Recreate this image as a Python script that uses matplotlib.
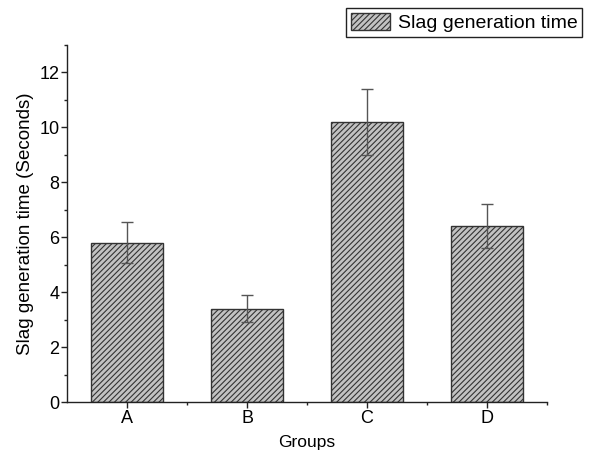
import matplotlib
matplotlib.use("Agg")
import matplotlib.pyplot as plt
from matplotlib.ticker import MultipleLocator

plt.rcParams['font.family'] = ['Liberation Sans', 'DejaVu Sans']
plt.rcParams['hatch.color'] = '#4a4a4a'
plt.rcParams['hatch.linewidth'] = 0.8

# data
groups = ['A', 'B', 'C', 'D']
times = [5.8, 3.4, 10.2, 6.4]
errors = [0.75, 0.48, 1.2, 0.8]

fig = plt.figure(figsize=(5.91, 4.54), dpi=100)
ax = fig.add_axes([0.1134, 0.1145, 0.8121, 0.7864])

x = list(range(len(groups)))
ax.bar(x, times, width=0.6, color='#c2c2c2', edgecolor='#333333', linewidth=1.0,
       hatch='//////', label='Slag generation time', zorder=2)
ax.errorbar(x, times, yerr=errors, fmt='none', ecolor='#555555', elinewidth=1.0,
            capsize=4, capthick=1.0, zorder=3)

ax.set_xlim(-0.5, 3.5)
ax.set_ylim(0, 13)
ax.set_xticks(x)
ax.set_xticklabels(groups)
ax.set_xticks([0.5, 1.5, 2.5, 3.5], minor=True)
ax.yaxis.set_major_locator(MultipleLocator(2))
ax.yaxis.set_minor_locator(MultipleLocator(1))

for s in ['top', 'right']:
    ax.spines[s].set_visible(False)
for s in ['left', 'bottom']:
    ax.spines[s].set_color('#222222')
    ax.spines[s].set_linewidth(1.0)

ax.tick_params(axis='both', which='major', direction='out', length=4, width=1,
               labelsize=13, color='#222222')
ax.tick_params(axis='y', which='major', pad=1.5)
ax.tick_params(axis='x', which='major', pad=1.5)
ax.tick_params(axis='both', which='minor', direction='out', length=2, width=1,
               color='#222222')

ax.set_xlabel('Groups', fontsize=12.5, labelpad=6)
ax.set_ylabel('Slag generation time (Seconds)', fontsize=13.5, labelpad=4)

fig.legend(loc='upper right', bbox_to_anchor=(0.985, 0.982), borderaxespad=0,
           fontsize=14, frameon=True, fancybox=False, edgecolor='#222222',
           framealpha=1, handlelength=2.0, handleheight=1.0, handletextpad=0.4,
           borderpad=0.25)

fig.savefig('out.png', dpi=100)
